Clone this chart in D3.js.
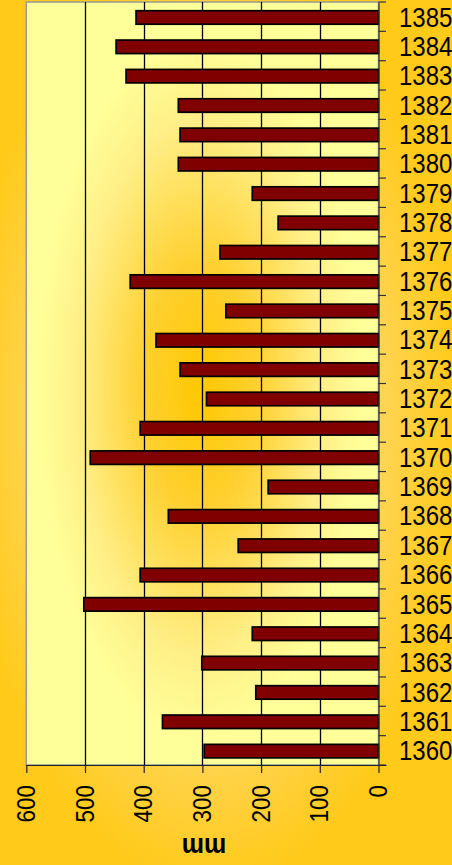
<!DOCTYPE html>
<html>
<head>
<meta charset="utf-8">
<script src="https://cdn.jsdelivr.net/npm/d3@7"></script>
<style>
  html, body { margin: 0; padding: 0; background: #FFCC33; }
  svg { display: block; }
  text { font-family: "Liberation Sans", Arial, sans-serif; fill: #000; }
</style>
</head>
<body>
<svg id="chart" width="452" height="865"></svg>
<script>
// ---- data ----
const years = [1385, 1384, 1383, 1382, 1381, 1380, 1379, 1378, 1377, 1376, 1375, 1374, 1373,
               1372, 1371, 1370, 1369, 1368, 1367, 1366, 1365, 1364, 1363, 1362, 1361, 1360];
const rainfall = [413, 447, 430, 341, 338, 341, 215, 171, 270, 423, 260, 379, 338,
                  293, 406, 491, 188, 358, 239, 406, 502, 215, 301, 209, 368, 297];
const valueTicks = [0, 100, 200, 300, 400, 500, 600];
const unitLabel = "mm";

// ---- layout ----
const W = 452, H = 865;
const plot = { left: 26.3, right: 378.5, top: 2, bottom: 765 };

const svg = d3.select("#chart");
const defs = svg.append("defs");

const bgGrad = defs.append("radialGradient").attr("id", "bgGrad")
  .attr("gradientUnits", "userSpaceOnUse")
  .attr("cx", 210).attr("cy", 420).attr("r", 300)
  .attr("gradientTransform", "translate(210,420) scale(0.82,1.55) translate(-210,-420)");
bgGrad.append("stop").attr("offset", 0).attr("stop-color", "#FFE38A");
bgGrad.append("stop").attr("offset", 0.55).attr("stop-color", "#FFDA70");
bgGrad.append("stop").attr("offset", 1).attr("stop-color", "#FFCA1A");

const plotGrad = defs.append("radialGradient").attr("id", "plotGrad")
  .attr("cx", 0.494).attr("cy", 0.505).attr("r", 0.46);
plotGrad.append("stop").attr("offset", 0).attr("stop-color", "#FFC800");
plotGrad.append("stop").attr("offset", 0.35).attr("stop-color", "#FFD030");
plotGrad.append("stop").attr("offset", 0.75).attr("stop-color", "#FFEE85");
plotGrad.append("stop").attr("offset", 1).attr("stop-color", "#FFFF99");

svg.append("rect").attr("width", W).attr("height", H).attr("fill", "url(#bgGrad)");

svg.append("rect")
  .attr("x", plot.left).attr("y", plot.top)
  .attr("width", plot.right - plot.left).attr("height", plot.bottom - plot.top)
  .attr("fill", "#FFFF99");
svg.append("rect")
  .attr("x", plot.left).attr("y", plot.top)
  .attr("width", plot.right - plot.left).attr("height", plot.bottom - plot.top)
  .attr("fill", "url(#plotGrad)")
  .attr("stroke", "#999").attr("stroke-width", 1.5);

// ---- scales ----
const x = d3.scaleLinear().domain([0, 600]).range([plot.right, plot.left]);
const y = d3.scaleBand().domain(years).range([plot.top, plot.bottom])
  .paddingInner(0.54).paddingOuter(0.27);

// gridlines
svg.append("g").selectAll("line")
  .data(valueTicks.filter(v => v > 0 && v < 600))
  .join("line")
  .attr("x1", d => Math.round(x(d)) + 0.5).attr("x2", d => Math.round(x(d)) + 0.5)
  .attr("y1", plot.top).attr("y2", plot.bottom)
  .attr("stroke", "#000").attr("stroke-width", 1.3);

// bars
svg.append("g").selectAll("rect")
  .data(years.map((yr, i) => ({ yr, v: rainfall[i] })))
  .join("rect")
  .attr("x", d => x(d.v))
  .attr("y", d => y(d.yr) + 0.8)
  .attr("width", d => x(0) - x(d.v))
  .attr("height", y.bandwidth())
  .attr("fill", "#800000")
  .attr("stroke", "#000").attr("stroke-width", 1.7);

// right (category) axis
const yAxis = svg.append("g").attr("transform", `translate(${plot.right},0)`)
  .call(d3.axisRight(y).tickSize(0).tickSizeOuter(0).tickPadding(20.5));
yAxis.select(".domain").attr("stroke", "#333").attr("stroke-width", 1.2);
yAxis.selectAll("text")
  .attr("font-size", 24).attr("dy", "0.36em")
  .attr("transform", "scale(1,1.15)")
  .style("font-family", '"Liberation Sans", Arial, sans-serif');

// boundary ticks on category axis
svg.append("g").selectAll("line")
  .data(d3.range(years.length + 1))
  .join("line")
  .attr("x1", plot.right).attr("x2", plot.right + 7.5)
  .attr("y1", i => plot.top + i * y.step()).attr("y2", i => plot.top + i * y.step())
  .attr("stroke", "#333").attr("stroke-width", 1.2);

// bottom (value) axis
const xAxis = svg.append("g").attr("transform", `translate(0,${plot.bottom})`)
  .call(d3.axisBottom(x).tickValues(valueTicks).tickSize(8).tickSizeOuter(0));
xAxis.select(".domain").remove();
xAxis.append("line")
  .attr("x1", plot.left).attr("x2", plot.right + 8)
  .attr("y1", 0.5).attr("y2", 0.5)
  .attr("stroke", "#222").attr("stroke-width", 1.2);
xAxis.selectAll(".tick line").attr("stroke", "#222").attr("stroke-width", 1.2);
xAxis.selectAll("text")
  .attr("y", null).attr("x", null)
  .attr("font-size", 22.5)
  .attr("text-anchor", "end")
  .attr("dy", "0.36em")
  .attr("transform", "translate(-1.5,20) rotate(-90) scale(1,1.18)")
  .style("font-family", '"Liberation Sans", Arial, sans-serif');

// unit label (shown upside down, as in the reference)
svg.append("text")
  .attr("transform", "translate(204,838) rotate(180) scale(1,1.12)")
  .attr("text-anchor", "middle")
  .attr("font-size", 25).attr("font-weight", "bold")
  .text(unitLabel);
</script>
</body>
</html>
